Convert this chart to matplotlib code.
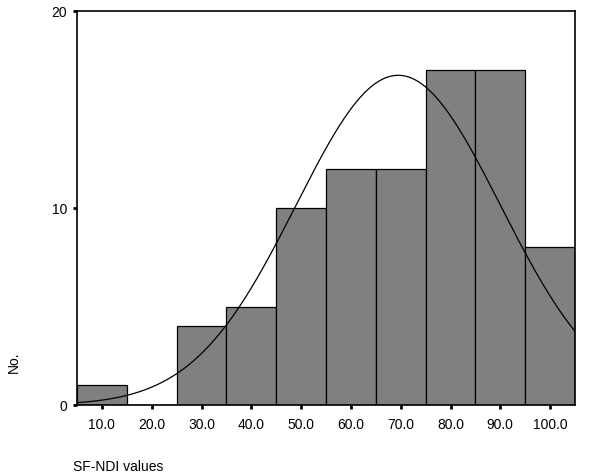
import numpy as np
import matplotlib
matplotlib.use("Agg")
import matplotlib.pyplot as plt

plt.rcParams['font.family'] = ['Liberation Sans', 'DejaVu Sans']

bin_centers = [10, 20, 30, 40, 50, 60, 70, 80, 90, 100]
counts = [1, 0, 4, 5, 10, 12, 12, 17, 17, 8]
tick_labels = ["10.0", "20.0", "30.0", "40.0", "50.0", "60.0", "70.0", "80.0", "90.0", "100.0"]
bin_width = 10
fit_mean = 69.5
fit_sd = 20.5

fig = plt.figure(figsize=(6, 4.77), dpi=100)
ax = fig.add_axes([77/600, 1 - 406/477, (575-77)/600, (406-12)/477])

ax.bar(bin_centers, counts, width=bin_width, color='#808080', edgecolor='black', linewidth=0.9)

n = sum(counts)
xs = np.linspace(5, 105, 400)
ys = n * bin_width / (fit_sd * np.sqrt(2 * np.pi)) * np.exp(-0.5 * ((xs - fit_mean) / fit_sd) ** 2)
ax.plot(xs, ys, color='black', linewidth=0.9)

ax.set_xlim(5, 105)
ax.set_ylim(0, 20)
ax.set_xticks(bin_centers)
ax.set_xticklabels(tick_labels)
ax.set_yticks([0, 10, 20])
ax.tick_params(axis='both', direction='out', length=3, width=2, labelsize=10, pad=6)
ax.tick_params(axis='y', pad=4)
for s in ax.spines.values():
    s.set_linewidth(1.2)

fig.text(73/600, 1 - 467/477, "SF-NDI values", fontsize=10, ha='left', va='center')
fig.text(14/600, 1 - 362/477, "No.", fontsize=10, rotation=90, ha='center', va='center')

fig.savefig("out.png", dpi=100)
